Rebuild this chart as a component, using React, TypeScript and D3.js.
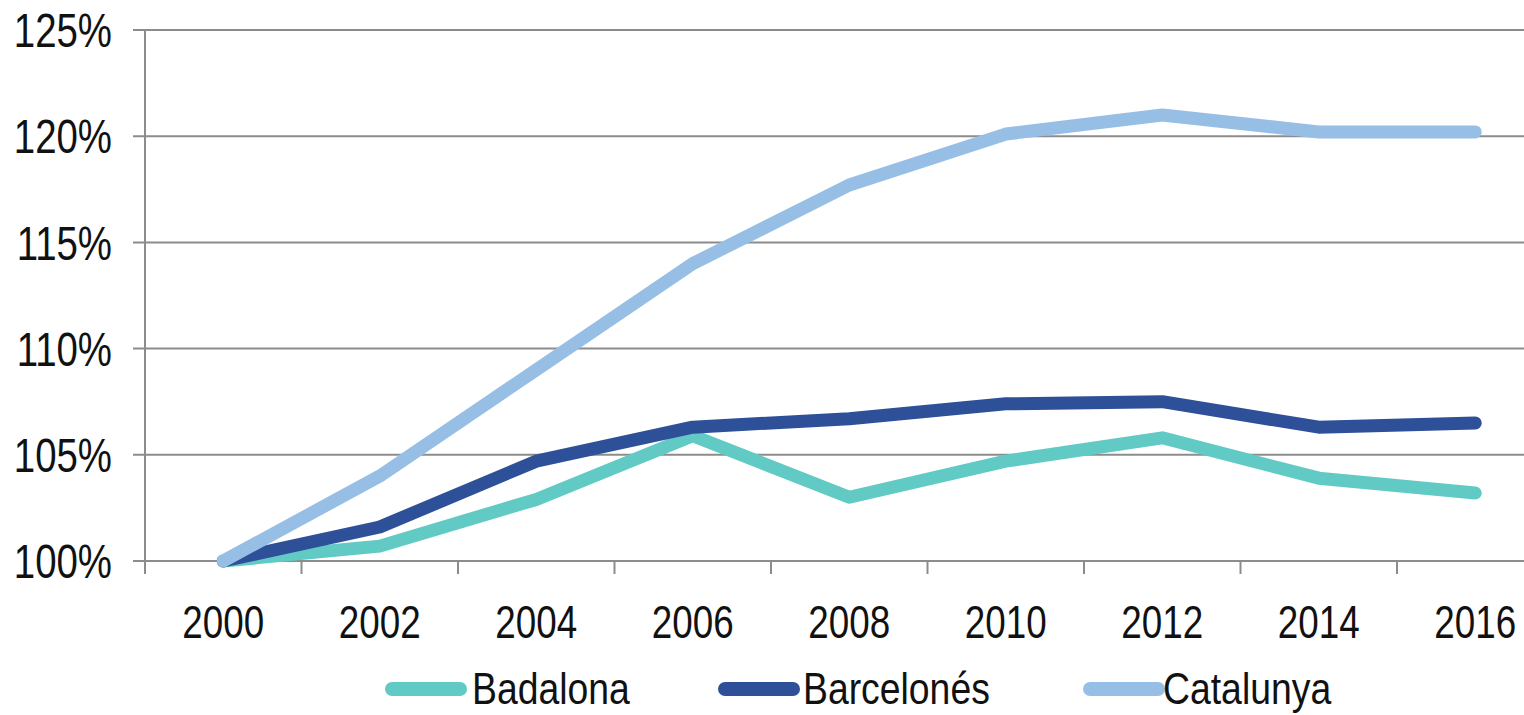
import * as d3 from "d3";

const years = ["2000", "2002", "2004", "2006", "2008", "2010", "2012", "2014", "2016"];
const badalona = [100, 100.7, 102.9, 105.9, 103.0, 104.7, 105.8, 103.9, 103.2];
const barcelones = [100, 101.6, 104.7, 106.3, 106.7, 107.4, 107.5, 106.3, 106.5];
const catalunya = [100, 104.0, 109.0, 114.0, 117.7, 120.1, 121.0, 120.2, 120.2];
const yTicks = [100, 105, 110, 115, 120, 125];

const seriesNames = ["Badalona", "Barcelonés", "Catalunya"];
const seriesValues = [badalona, barcelones, catalunya];
const seriesColors = ["#62cac5", "#2d5098", "#97bfe6"];

const width = 1524;
const height = 715;
const plotLeft = 145;
const bandStep = 156.5;
const fontFamily = "'Liberation Sans', Arial, sans-serif";
const squeeze = 0.8;

export default function App() {
  const x = d3
    .scaleBand<string>()
    .domain(years)
    .range([plotLeft, plotLeft + bandStep * years.length]);
  const y = d3.scaleLinear().domain([100, 125]).range([561, 30]);
  const cx = (yr: string) => (x(yr) ?? 0) + x.bandwidth() / 2;

  const line = d3
    .line<number>()
    .x((_, i) => cx(years[i]))
    .y((v) => y(v));

  const boundaries = [...years.map((yr) => x(yr) ?? 0), x.range()[1]];
  const legendItems = [
    { lineX: 385, textX: 472 },
    { lineX: 718, textX: 803 },
    { lineX: 1083, textX: 1163 },
  ];

  return (
    <svg
      width={width}
      height={height}
      style={{ position: "absolute", left: 0, top: 0, background: "#fff" }}
      fontFamily={fontFamily}
    >
      {/* grid */}
      {yTicks.map((t) => (
        <line
          key={t}
          x1={plotLeft - 12}
          x2={x.range()[1]}
          y1={y(t)}
          y2={y(t)}
          stroke="#8c8c8c"
          strokeWidth={2}
        />
      ))}
      <line x1={plotLeft} x2={plotLeft} y1={y(125)} y2={y(100) + 13} stroke="#8c8c8c" strokeWidth={2} />
      {boundaries.map((bx, i) => (
        <line key={i} x1={bx} x2={bx} y1={y(100)} y2={y(100) + 13} stroke="#8c8c8c" strokeWidth={2} />
      ))}

      {/* y labels */}
      {yTicks.map((t) => (
        <text
          key={t}
          transform={`translate(112,${y(t)}) scale(${squeeze},1)`}
          textAnchor="end"
          dy="0.36em"
          fontSize={48}
          fill="#111"
        >
          {t}%
        </text>
      ))}

      {/* x labels */}
      {years.map((yr) => (
        <text
          key={yr}
          transform={`translate(${cx(yr)},638) scale(${squeeze},1)`}
          textAnchor="middle"
          fontSize={46}
          fill="#111"
        >
          {yr}
        </text>
      ))}

      {/* series */}
      {seriesValues.map((vals, i) => (
        <path
          key={seriesNames[i]}
          d={line(vals) ?? ""}
          fill="none"
          stroke={seriesColors[i]}
          strokeWidth={13}
          strokeLinejoin="round"
          strokeLinecap="round"
        />
      ))}

      {/* legend */}
      {seriesNames.map((name, i) => (
        <g key={name}>
          <line
            x1={legendItems[i].lineX + 7}
            x2={legendItems[i].lineX + 75}
            y1={689}
            y2={689}
            stroke={seriesColors[i]}
            strokeWidth={14}
            strokeLinecap="round"
          />
          <text
            transform={`translate(${legendItems[i].textX},704) scale(${squeeze + 0.03},1)`}
            fontSize={45}
            fill="#111"
          >
            {name}
          </text>
        </g>
      ))}
    </svg>
  );
}
